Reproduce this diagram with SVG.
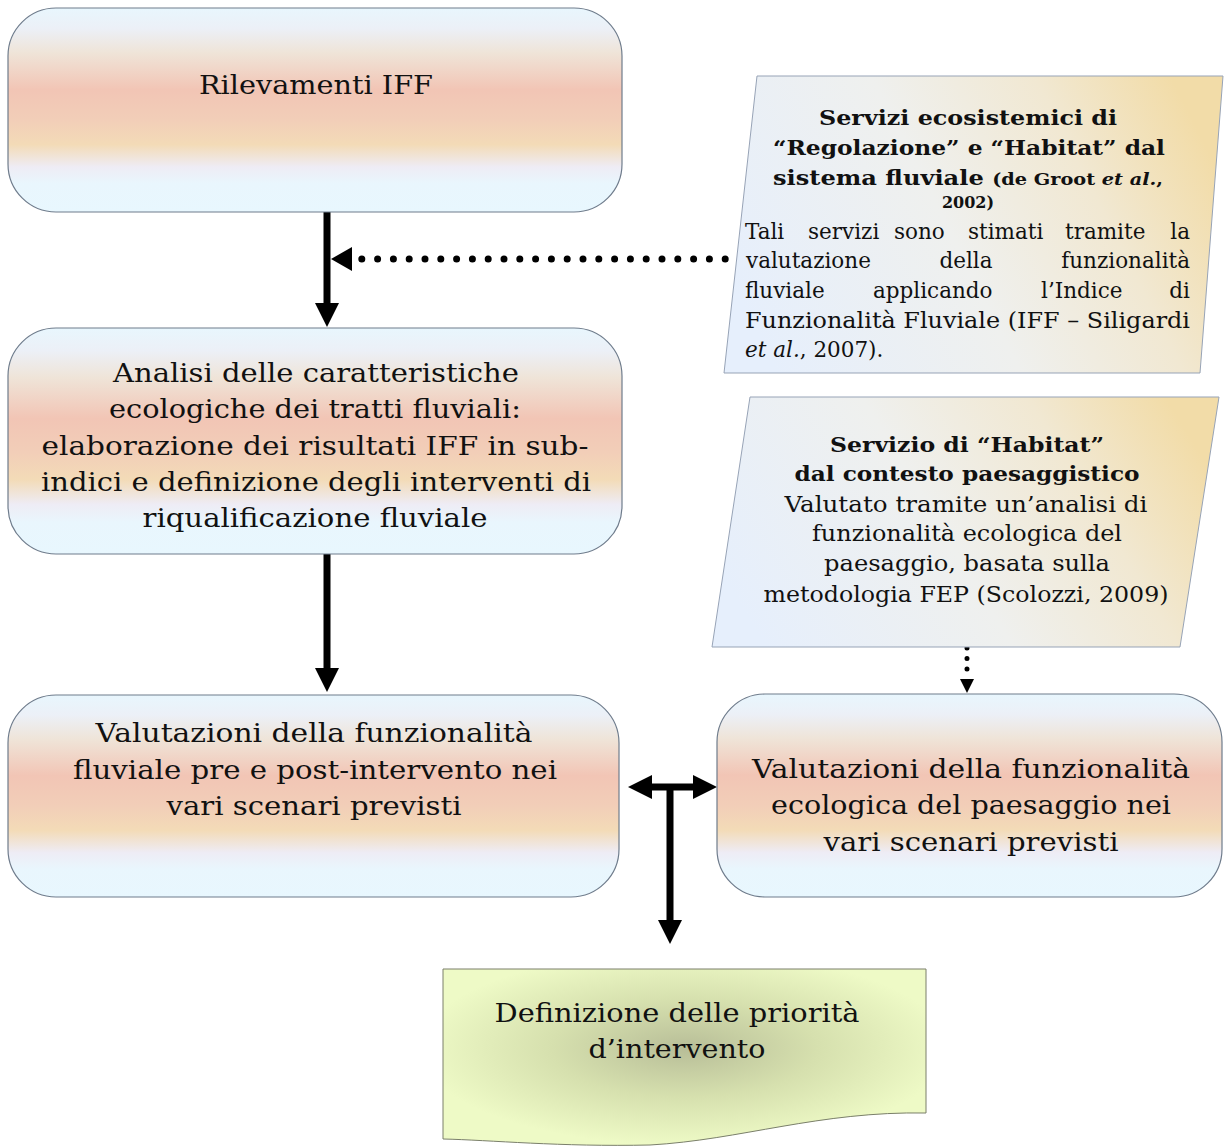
<svg xmlns="http://www.w3.org/2000/svg" width="1224" height="1146" viewBox="0 0 1224 1146">
<style>
.box{stroke:#6f7c8c;stroke-width:1.2}
.para{stroke:#97a3b6;stroke-width:1}
.t{font-family:"DejaVu Serif","Liberation Serif",serif;fill:#111}
.big{font-size:26px}
.body{font-size:21.5px}
.bold{font-weight:bold;font-size:20px}
.small{font-weight:bold;font-size:16px}
.conn{stroke:#000;stroke-width:7;fill:none}
.dots{stroke:#000;stroke-width:7;stroke-linecap:round;fill:none;stroke-dasharray:0 15.8}
</style>
<defs>
<linearGradient id="gBox" x1="0" y1="0" x2="0" y2="1">
<stop offset="0" stop-color="#e8f6fd"/>
<stop offset="0.1" stop-color="#ecf0f7"/>
<stop offset="0.22" stop-color="#efe4d8"/>
<stop offset="0.4" stop-color="#f2c5b5"/>
<stop offset="0.55" stop-color="#f2ceb8"/>
<stop offset="0.67" stop-color="#f3dbb7"/>
<stop offset="0.78" stop-color="#eeecf5"/>
<stop offset="0.86" stop-color="#e9f6fd"/>
<stop offset="1" stop-color="#e8f7fe"/>
</linearGradient>
<linearGradient id="gPara" x1="0" y1="0.65" x2="1" y2="0.35">
<stop offset="0" stop-color="#e6effc"/>
<stop offset="0.45" stop-color="#eff0ee"/>
<stop offset="0.75" stop-color="#f1e8d2"/>
<stop offset="1" stop-color="#f2dca8"/>
</linearGradient>
<radialGradient id="gDoc" cx="0.5" cy="0.45" r="0.55">
<stop offset="0" stop-color="#b8be98"/>
<stop offset="0.5" stop-color="#d6e0ae"/>
<stop offset="1" stop-color="#eefac6"/>
</radialGradient>
<marker id="ah" viewBox="0 0 24 24" refX="2" refY="12" markerWidth="24" markerHeight="24" markerUnits="userSpaceOnUse" orient="auto-start-reverse">
<path d="M0,0 L24,12 L0,24 z" fill="#000"/>
</marker>
</defs>

<g id="connectors">
<line class="conn" x1="327" y1="212" x2="327" y2="305" marker-end="url(#ah)"/>
<line class="conn" x1="327" y1="554" x2="327" y2="670" marker-end="url(#ah)"/>
<line class="dots" x1="741" y1="259" x2="360" y2="259"/>
<path d="M352,247 L331,259 L352,271 z" fill="#000"/>
<line class="conn" x1="650" y1="787" x2="695" y2="787" marker-start="url(#ah)" marker-end="url(#ah)"/>
<line class="conn" x1="670" y1="787" x2="670" y2="922" marker-end="url(#ah)"/>
<line class="dots" style="stroke-width:5;stroke-dasharray:0 10.5" x1="967" y1="648" x2="967" y2="670"/>
<path d="M960,679 L974,679 L967,693 z" fill="#000"/>
</g>

<g id="node-rilevamenti">
<rect class="box" x="8" y="8" width="614" height="204" rx="48" ry="48" fill="url(#gBox)"/>
<text class="t big" x="316" y="94" text-anchor="middle" textLength="234" lengthAdjust="spacingAndGlyphs">Rilevamenti IFF</text>
</g>

<g id="node-analisi">
<rect class="box" x="8" y="328" width="614" height="226" rx="48" ry="48" fill="url(#gBox)"/>
<g class="t big" text-anchor="middle">
<text x="316" y="382" textLength="406" lengthAdjust="spacingAndGlyphs">Analisi delle caratteristiche</text>
<text x="315" y="418" textLength="412" lengthAdjust="spacingAndGlyphs">ecologiche dei tratti fluviali:</text>
<text x="315" y="455" textLength="547" lengthAdjust="spacingAndGlyphs">elaborazione dei risultati IFF in sub-</text>
<text x="316" y="491" textLength="550" lengthAdjust="spacingAndGlyphs">indici e definizione degli interventi di</text>
<text x="315" y="527" textLength="345" lengthAdjust="spacingAndGlyphs">riqualificazione fluviale</text>
</g>
</g>

<g id="node-servizi-fluviali">
<polygon class="para" points="757,76 1223,76 1200,373 724,373" fill="url(#gPara)"/>
<g class="t" text-anchor="middle">
<text class="bold" x="968" y="125" textLength="298" lengthAdjust="spacingAndGlyphs">Servizi ecosistemici di</text>
<text class="bold" x="969" y="155" textLength="392" lengthAdjust="spacingAndGlyphs">“Regolazione” e “Habitat” dal</text>
<text x="968" y="185" textLength="390" lengthAdjust="spacingAndGlyphs"><tspan class="bold">sistema fluviale </tspan><tspan class="small">(de Groot </tspan><tspan class="small" font-style="italic">et  al.</tspan><tspan class="small">,</tspan></text>
<text class="small" x="968" y="208">2002)</text>
</g>
<g class="t body">
<text x="745" y="239">Tali</text>
<text x="808" y="239">servizi</text>
<text x="894" y="239">sono</text>
<text x="968" y="239">stimati</text>
<text x="1065" y="239">tramite</text>
<text x="1190" y="239" text-anchor="end">la</text>
<text x="746" y="268">valutazione</text>
<text x="966" y="268" text-anchor="middle">della</text>
<text x="1190" y="268" text-anchor="end">funzionalità</text>
<text x="745" y="298">fluviale</text>
<text x="873" y="298">applicando</text>
<text x="1041" y="298">l’Indice</text>
<text x="1190" y="298" text-anchor="end">di</text>
<text x="745" y="328" textLength="445" lengthAdjust="spacingAndGlyphs">Funzionalità Fluviale (IFF – Siligardi</text>
<text x="745" y="357"><tspan font-style="italic">et al.</tspan>, 2007).</text>
</g>
</g>

<g id="node-servizio-habitat">
<polygon class="para" points="750,397 1219,397 1180,647 712,647" fill="url(#gPara)"/>
<g class="t" text-anchor="middle">
<text class="bold" x="967" y="452" textLength="274" lengthAdjust="spacingAndGlyphs">Servizio di “Habitat”</text>
<text class="bold" x="967" y="481" textLength="345" lengthAdjust="spacingAndGlyphs">dal contesto paesaggistico</text>
<text class="body" x="966" y="512" textLength="363" lengthAdjust="spacingAndGlyphs">Valutato tramite un’analisi di</text>
<text class="body" x="967" y="541" textLength="310" lengthAdjust="spacingAndGlyphs">funzionalità ecologica del</text>
<text class="body" x="967" y="571" textLength="286" lengthAdjust="spacingAndGlyphs">paesaggio, basata sulla</text>
<text class="body" x="966" y="602" textLength="405" lengthAdjust="spacingAndGlyphs">metodologia FEP (Scolozzi, 2009)</text>
</g>
</g>

<g id="node-valutazioni-fluviale">
<rect class="box" x="8" y="695" width="611" height="202" rx="48" ry="48" fill="url(#gBox)"/>
<g class="t big" text-anchor="middle">
<text x="314" y="742" textLength="437" lengthAdjust="spacingAndGlyphs">Valutazioni della funzionalità</text>
<text x="315" y="779" textLength="484" lengthAdjust="spacingAndGlyphs">fluviale pre e post-intervento nei</text>
<text x="314" y="815" textLength="295" lengthAdjust="spacingAndGlyphs">vari scenari previsti</text>
</g>
</g>

<g id="node-valutazioni-paesaggio">
<rect class="box" x="717" y="694" width="505" height="203" rx="48" ry="48" fill="url(#gBox)"/>
<g class="t big" text-anchor="middle">
<text x="971" y="778" textLength="438" lengthAdjust="spacingAndGlyphs">Valutazioni della funzionalità</text>
<text x="971" y="814" textLength="400" lengthAdjust="spacingAndGlyphs">ecologica del paesaggio nei</text>
<text x="971" y="851" textLength="295" lengthAdjust="spacingAndGlyphs">vari scenari previsti</text>
</g>
</g>

<g id="node-priorita">
<path d="M443,969 H926 V1113 C820,1111 740,1140 650,1145 C560,1147 490,1140 443,1139 Z" fill="url(#gDoc)" stroke="#7a7f6a" stroke-width="1"/>
<g class="t big" text-anchor="middle">
<text x="677" y="1022" textLength="365" lengthAdjust="spacingAndGlyphs">Definizione delle priorità</text>
<text x="677" y="1058" textLength="177" lengthAdjust="spacingAndGlyphs">d’intervento</text>
</g>
</g>
</svg>
